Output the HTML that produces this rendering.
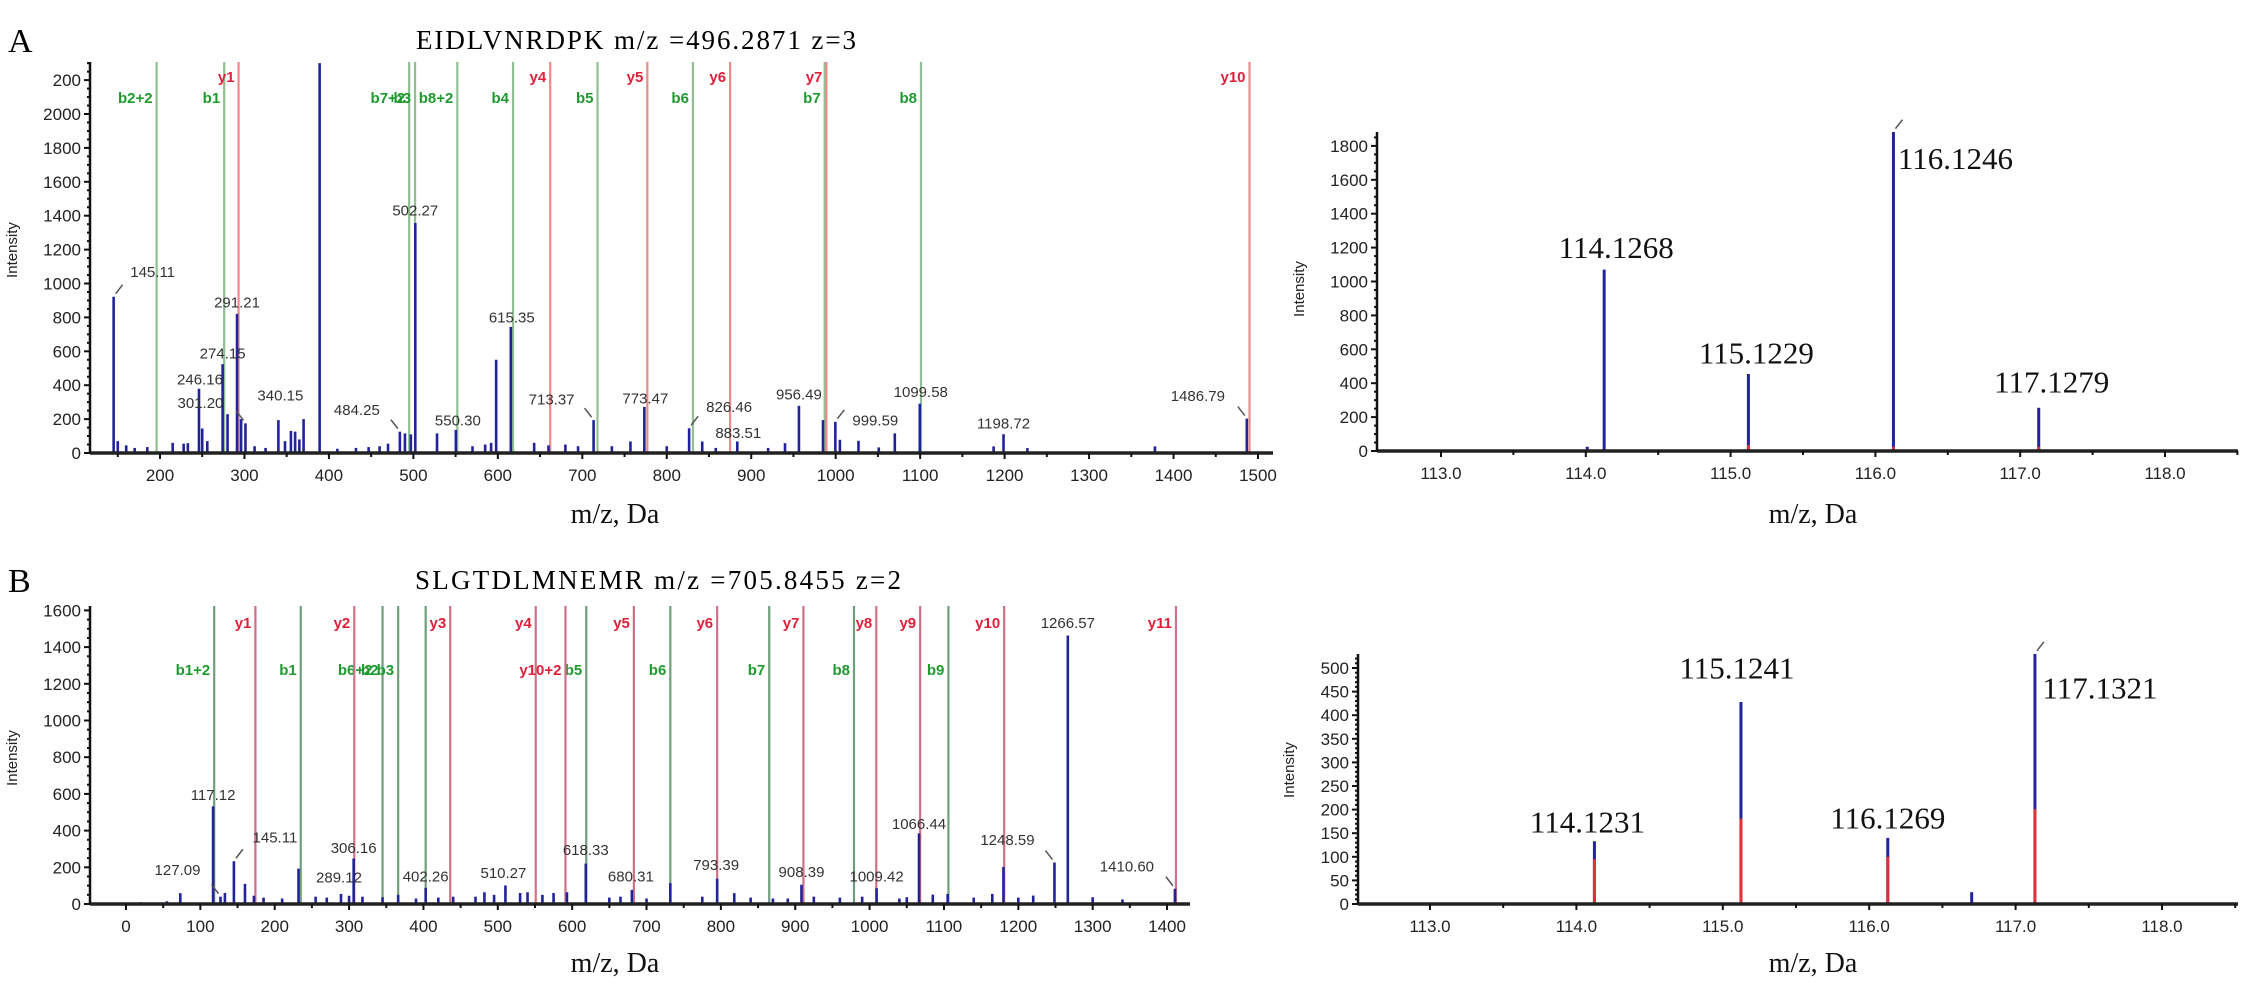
<!DOCTYPE html>
<html><head><meta charset="utf-8"><style>
html,body{margin:0;padding:0;background:#fff;}
svg{display:block;}
</style></head><body>
<svg id="fig" width="2242" height="1007" viewBox="0 0 2242 1007" xmlns="http://www.w3.org/2000/svg">
<text x="8" y="52" font-family="Liberation Serif, serif" font-size="34">A</text>
<text x="636" y="49" text-anchor="middle" font-family="Liberation Serif, serif" font-size="27" textLength="440">EIDLVNRDPK  m/z =496.2871  z=3</text>
<text x="8" y="592" font-family="Liberation Serif, serif" font-size="34">B</text>
<text x="658" y="589" text-anchor="middle" font-family="Liberation Serif, serif" font-size="27" textLength="486">SLGTDLMNEMR   m/z =705.8455   z=2</text>
<g id="layer"></g>
</svg>
<script>
// ---------- Panel A (left) data ----------
const aPeakMz  = [145.11,150,160,170,185,215,228,233,246.16,250,256,274.15,280,291.21,296,301.2,312,325,340.15,348,355,360,365,370,389,410,432,447,460,470,484,490,497,502.27,528,550.30,570,585,592,598,615.35,643,660,680,695,713.37,735,757,773.47,800,826.46,842,858,883.51,920,940,956.49,985,999.59,1005,1027,1051,1070,1099.58,1187,1198.72,1227,1378,1486.79];
const aPeakInt = [922,70,45,30,35,60,55,58,379,145,70,524,229,821,200,175,40,30,194,70,130,126,80,200,2300,25,30,35,40,55,126,116,110,1357,116,136,40,50,60,550,744,60,45,50,40,194,40,68,272,40,146,68,30,68,30,58,278,194,184,78,72,33,116,291,39,111,29,39,203];
const aLabelMz   = [145.11,291.21,274.15,246.16,301.2,340.15,484,502.27,550.30,615.35,713.37,773.47,826.46,883.51,956.49,999.59,1099.58,1198.72,1486.79];
const aLabelText = ["145.11","291.21","274.15","246.16","301.20","340.15","484.25","502.27","550.30","615.35","713.37","773.47","826.46","883.51","956.49","999.59","1099.58","1198.72","1486.79"];
const aLabelDx = [39,0,0,1,-45,2,-43,0,2,1,-42,1,40,1,0,40,1,0,-49];
const aLabelDy = [-24,-11,-10,-9,-20,-24,-21,-12,-9,-9,-20,-8,-21,-8,-11,-1,-11,-10,-22];
const aIonMz   = [196,276,495,502,552,618,718,831,987,1101, 293,662,777,875,989,1490];
const aIonType = ["b","b","b","b","b","b","b","b","b","b","y","y","y","y","y","y"];
const aIonText = ["b2+2","b1","b7+2","b3","b8+2","b4","b5","b6","b7","b8","y1","y4","y5","y6","y7","y10"];
const aIonRow  = ["b","b","b","b","b","b","b","b","b","b","y","y","y","y","y","y"];
const aXTicks = [200,300,400,500,600,700,800,900,1000,1100,1200,1300,1400,1500];
const aYTicks = [0,200,400,600,800,1000,1200,1400,1600,1800,2000,2200];
const aYTickLabels = ["0","200","400","600","800","1000","1200","1400","1600","1800","2000","200"];

// ---------- Panel B (left) data ----------
const bPeakMz  = [20,55,73,117.12,127.09,133,145.11,160,172,185,210,232,255,270,289.12,300,306.16,318,345,366,390,403,420,440,470,482,495,510.27,530,540,560,575,593,618.33,650,665,680.31,700,732,775,795,818,840,870,890,908.39,925,960,990,1009.42,1040,1050,1066.44,1085,1105,1140,1165,1180,1200,1220,1248.59,1266.57,1300,1340,1410.60];
const bPeakInt = [10,15,59,532,40,60,233,110,45,35,30,193,40,35,55,45,248,40,37,50,30,88,35,40,40,64,50,101,60,64,50,60,64,220,35,40,77,30,114,40,138,59,35,30,30,105,40,35,40,86,30,37,385,51,55,35,55,202,35,46,226,1463,37,25,83];
const bLabelMz   = [117.12,145.11,127.09,306.16,289.12,403,510.27,618.33,680.31,795,908.39,1009.42,1066.44,1248.59,1266.57,1410.60];
const bLabelText = ["117.12","145.11","127.09","306.16","289.12","402.26","510.27","618.33","680.31","793.39","908.39","1009.42","1066.44","1248.59","1266.57","1410.60"];
const bLabelDx = [0,41,-43,0,-2,0,-2,0,-1,-1,0,0,0,-47,0,-48];
const bLabelDy = [-11,-23,-26,-10,-16,-11,-12,-13,-13,-13,-12,-11,-9,-22,-12,-22];
const bIonMz   = [118.6,235,345,366,403,619,732,865,979,1106, 174,307,436,551,591,683,795,911,1009,1068,1181,1412];
const bIonType = ["b","b","b","b","b","b","b","b","b","b","y","y","y","y","y","y","y","y","y","y","y","y"];
const bIonText = ["b1+2","b1","b2","b6+2 b3","","b5","b6","b7","b8","b9","y1","y2","y3","y4","y10+2","y5","y6","y7","y8","y9","y10","y11"];
const bIonRow  = ["b","b","b","b","b","b","b","b","b","b","y","y","y","y","b","y","y","y","y","y","y","y"];
const bXTicks = [0,100,200,300,400,500,600,700,800,900,1000,1100,1200,1300,1400];
const bYTicks = [0,200,400,600,800,1000,1200,1400,1600];

// ---------- Right panels data ----------
const arMz  = [113.1,114.01,114.1268,114.35,115.1229,116.0,116.1246,117.1279];
const arInt = [6,25,1070,5,454,8,1884,255];
const arRed = [0,0,0,0,35,0,25,25];
const arLabelMz = [114.1268,115.1229,116.1246,117.1279];
const arLabelText = ["114.1268","115.1229","116.1246","117.1279"];
const arLabelDx = [12,8,62,13];
const arLabelDy = [-22,-21,27,-26];
const brMz  = [114.1231,115.1241,116.1269,116.7,117.1321];
const brInt = [133,428,140,25,530];
const brRed = [95,181,100,0,201];
const brLabelMz = [114.1231,115.1241,116.1269,117.1321];
const brLabelText = ["114.1231","115.1241","116.1269","117.1321"];
const brLabelDx = [-7,-4,0,65];
const brLabelDy = [-19,-34,-20,34];
const rXTicks = [113.0,114.0,115.0,116.0,117.0,118.0];
const arYTicks = [0,200,400,600,800,1000,1200,1400,1600,1800];
const brYTicks = [0,50,100,150,200,250,300,350,400,450,500];

const NS = "http://www.w3.org/2000/svg";
const layer = document.getElementById("layer");
function mk(tag, attrs, parent){
  const e = document.createElementNS(NS, tag);
  for (const k in attrs) e.setAttribute(k, attrs[k]);
  (parent||layer).appendChild(e);
  return e;
}

function drawPanel(p){
  const g = mk("g", {});
  
  
  const xs = m => p.x0 + (m - p.m0) * p.kx;
  const ys = v => p.base - v * p.ky;
  if (p.ionMz){
    p.ionMz.forEach((m,i)=>{
      const isB = p.ionType[i] === "b";
      const ln = mk("line", {x1:xs(m), x2:xs(m), y1:p.top, y2:p.base, stroke: isB?p.gCol:p.rCol, "stroke-width":2.2}, g);
      
      
      if (p.ionText[i]){
        const rowB = p.ionRow[i] === "b";
        const t = mk("text", {x:xs(m)-4, y:rowB?p.gLabY:p.rLabY, "text-anchor":"end", "font-family":"Liberation Sans, sans-serif", "font-size":15, "font-weight":"bold", fill:isB?"#1e9a2e":"#e0203a"}, g);
        t.textContent = p.ionText[i];
        
        
      }
    });
  }
  p.peakMz.forEach((m,i)=>{
    const v = Math.min(p.peakInt[i], p.vmax);
    const ln = mk("line", {x1:xs(m), x2:xs(m), y1:p.base, y2:Math.max(ys(v), p.top), stroke:"#22229a", "stroke-width":p.pw}, g);
    
    
    if (p.red && p.red[i] > 0){
      const r = mk("line", {x1:xs(m), x2:xs(m), y1:p.base, y2:ys(p.red[i]), stroke:"#e0303a", "stroke-width":p.pw}, g);
      
      
    }
  });
  p.labMz.forEach((m,i)=>{
    const idx = p.peakMz.indexOf(m);
    const v = idx >= 0 ? p.peakInt[idx] : 0;
    const px = xs(m), py = ys(v);
    const t = mk("text", {x:px + p.labDx[i], y:py + p.labDy[i], "text-anchor":"middle", "dominant-baseline":"central", "font-family":p.labFont, "font-size":p.labSize, fill:p.labCol}, g);
    t.textContent = p.labText[i];
    
    
    if (Math.abs(p.labDx[i]) > 20){
      const s = Math.sign(p.labDx[i]);
      const l = mk("line", {x1:px + s*2, y1:py-3, x2:px + s*9, y2:py-12, stroke:"#555", "stroke-width":1.5}, g);
      
      
    }
  });
  const ax = mk("line", {x1:p.axL, x2:p.axR, y1:p.base, y2:p.base, stroke:"#222", "stroke-width":3.5}, g);
  
  
  const ay = mk("line", {x1:p.axL, x2:p.axL, y1:p.top, y2:p.base, stroke:"#111", "stroke-width":2.5}, g);
  
  
  p.xTicks.forEach((m,i)=>{
    mk("line", {x1:xs(m), x2:xs(m), y1:p.base, y2:p.base+6, stroke:"#111", "stroke-width":2}, g);
    if (p.xMinor && xs(m+p.xMinor) < p.axR) mk("line", {x1:xs(m+p.xMinor), x2:xs(m+p.xMinor), y1:p.base, y2:p.base+4, stroke:"#111", "stroke-width":2}, g);
    if (p.xMinor && xs(m-p.xMinor) > p.axL && i===0) mk("line", {x1:xs(m-p.xMinor), x2:xs(m-p.xMinor), y1:p.base, y2:p.base+4, stroke:"#111", "stroke-width":2}, g);
    const t = mk("text", {x:xs(m), y:p.base+28, "text-anchor":"middle", "font-family":"Liberation Sans, sans-serif", "font-size":17, fill:"#222"}, g);
    t.textContent = p.xFmt ? m.toFixed(1) : String(m);
    
    
  });
  p.yTicks.forEach((v,i)=>{
    mk("line", {x1:p.axL-6, x2:p.axL, y1:ys(v), y2:ys(v), stroke:"#111", "stroke-width":2}, g);
    for (let k=1;k<p.yMinorN;k++){
      const vv = v + k*p.yStep/p.yMinorN;
      if (ys(vv) > p.top) mk("line", {x1:p.axL-3, x2:p.axL, y1:ys(vv), y2:ys(vv), stroke:"#111", "stroke-width":2}, g);
    }
    const t = mk("text", {x:p.axL-9, y:ys(v)+6, "text-anchor":"end", "font-family":"Liberation Sans, sans-serif", "font-size":17, fill:"#222"}, g);
    t.textContent = p.yLabels ? p.yLabels[i] : String(v);
    
    
  });
  const yt = mk("text", {x:p.yTitleX, y:p.yTitleY, "text-anchor":"middle", "font-family":"Liberation Sans, sans-serif", "font-size":15, fill:"#222", transform:"rotate(-90 "+p.yTitleX+" "+p.yTitleY+")"}, g);
  yt.textContent = "Intensity";
  
  
  const xt = mk("text", {x:p.xTitleX, y:p.xTitleY, "text-anchor":"middle", "font-family":"Liberation Serif, serif", "font-size":28, fill:"#111"}, g);
  xt.textContent = "m/z, Da";
  
  
}

drawPanel({name:"panel-a-spectrum", x0:160, m0:200, kx:0.8446, base:453, ky:0.1695, top:62, vmax:2300, axL:90, axR:1273,
  peakMz:aPeakMz, peakInt:aPeakInt, pw:2.6, ionMz:aIonMz, ionType:aIonType, ionText:aIonText, ionRow:aIonRow, gCol:"#8fbf92", rCol:"#ec8a8a", gLabY:103, rLabY:82,
  labMz:aLabelMz, labText:aLabelText, labDx:aLabelDx, labDy:aLabelDy, labFont:"Liberation Sans, sans-serif", labSize:15, labCol:"#333",
  xTicks:aXTicks, xMinor:50, yTicks:aYTicks, yLabels:aYTickLabels, yStep:200, yMinorN:4, yTitleX:17, yTitleY:250, xTitleX:615, xTitleY:523});

drawPanel({name:"panel-b-spectrum", x0:126, m0:0, kx:0.7436, base:904, ky:0.1835, top:606, vmax:1600, axL:90, axR:1190,
  peakMz:bPeakMz, peakInt:bPeakInt, pw:2.6, ionMz:bIonMz, ionType:bIonType, ionText:bIonText, ionRow:bIonRow, gCol:"#6f9e7c", rCol:"#cf7088", gLabY:675, rLabY:628,
  labMz:bLabelMz, labText:bLabelText, labDx:bLabelDx, labDy:bLabelDy, labFont:"Liberation Sans, sans-serif", labSize:15, labCol:"#333",
  xTicks:bXTicks, xMinor:50, yTicks:bYTicks, yStep:200, yMinorN:4, yTitleX:17, yTitleY:758, xTitleX:615, xTitleY:972});

drawPanel({name:"panel-a-reporter", x0:1441, m0:113, kx:144.8, base:451, ky:0.1695, top:132, vmax:1900, axL:1377, axR:2238,
  peakMz:arMz, peakInt:arInt, red:arRed, pw:3,
  labMz:arLabelMz, labText:arLabelText, labDx:arLabelDx, labDy:arLabelDy, labFont:"Liberation Serif, serif", labSize:31, labCol:"#111",
  xTicks:rXTicks, xMinor:0.5, xFmt:true, yTicks:arYTicks, yStep:200, yMinorN:4, yTitleX:1304, yTitleY:289, xTitleX:1813, xTitleY:523});

drawPanel({name:"panel-b-reporter", x0:1430, m0:113, kx:146.4, base:904, ky:0.472, top:654, vmax:530, axL:1358, axR:2238,
  peakMz:brMz, peakInt:brInt, red:brRed, pw:3,
  labMz:brLabelMz, labText:brLabelText, labDx:brLabelDx, labDy:brLabelDy, labFont:"Liberation Serif, serif", labSize:31, labCol:"#111",
  xTicks:rXTicks, xMinor:0.5, xFmt:true, yTicks:brYTicks, yStep:50, yMinorN:5, yTitleX:1294, yTitleY:770, xTitleX:1813, xTitleY:972});
</script>
</body></html>
